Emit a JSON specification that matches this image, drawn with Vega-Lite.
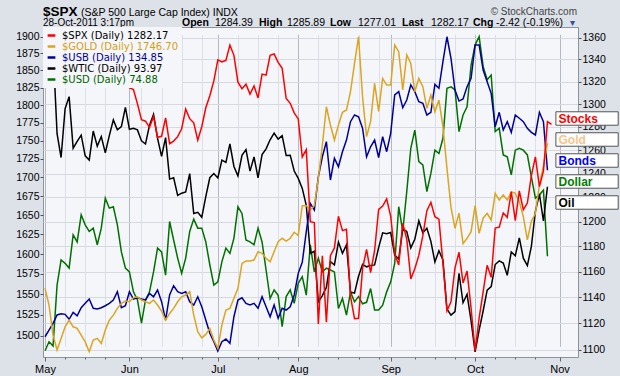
{
  "$schema": "https://vega.github.io/schema/vega-lite/v6.json",
  "width": 535,
  "height": 330,
  "autosize": {"type": "none"},
  "padding": {"left": 43, "top": 27, "right": 42, "bottom": 19},
  "background": "#dde1e8",
  "view": {"fill": "#f5f6fa", "stroke": "#8e939c"},
  "config": {"font": "Liberation Sans"},
  "data": {
    "values": [
      {"i":0,"spx":1361.22,"gold":1557.2,"usb":121.70,"wtic":113.52,"usd":72.89},
      {"i":1,"spx":1356.62,"gold":1536.8,"usb":122.23,"wtic":111.05,"usd":73.08},
      {"i":2,"spx":1347.32,"gold":1500.7,"usb":122.76,"wtic":109.24,"usd":72.99},
      {"i":3,"spx":1335.10,"gold":1483.1,"usb":123.42,"wtic":99.80,"usd":74.27},
      {"i":4,"spx":1340.20,"gold":1496.8,"usb":123.52,"wtic":97.18,"usd":74.80},
      {"i":5,"spx":1346.29,"gold":1510.6,"usb":123.47,"wtic":102.55,"usd":74.73},
      {"i":6,"spx":1357.16,"gold":1518.6,"usb":123.08,"wtic":103.88,"usd":74.63},
      {"i":7,"spx":1342.08,"gold":1510.6,"usb":123.63,"wtic":98.21,"usd":75.33},
      {"i":8,"spx":1348.65,"gold":1508.7,"usb":123.36,"wtic":98.97,"usd":75.18},
      {"i":9,"spx":1337.77,"gold":1500.7,"usb":123.99,"wtic":99.65,"usd":75.75},
      {"i":10,"spx":1329.47,"gold":1492.6,"usb":124.34,"wtic":97.37,"usd":75.54},
      {"i":11,"spx":1328.98,"gold":1481.1,"usb":124.68,"wtic":96.91,"usd":75.40},
      {"i":12,"spx":1340.68,"gold":1494.8,"usb":123.95,"wtic":100.10,"usd":75.47},
      {"i":13,"spx":1343.60,"gold":1496.8,"usb":123.89,"wtic":98.44,"usd":75.12},
      {"i":14,"spx":1333.27,"gold":1490.9,"usb":123.99,"wtic":99.49,"usd":75.47},
      {"i":15,"spx":1317.37,"gold":1506.7,"usb":124.15,"wtic":97.70,"usd":76.10},
      {"i":16,"spx":1316.28,"gold":1518.6,"usb":124.34,"wtic":99.59,"usd":75.89},
      {"i":17,"spx":1320.47,"gold":1524.6,"usb":124.60,"wtic":101.32,"usd":75.92},
      {"i":18,"spx":1325.69,"gold":1532.8,"usb":125.26,"wtic":100.23,"usd":75.54},
      {"i":19,"spx":1331.10,"gold":1538.8,"usb":123.99,"wtic":100.59,"usd":74.97},
      {"i":20,"spx":1345.20,"gold":1541.7,"usb":124.15,"wtic":102.70,"usd":74.63},
      {"i":21,"spx":1314.55,"gold":1540.8,"usb":125.26,"wtic":100.29,"usd":74.55},
      {"i":22,"spx":1312.94,"gold":1545.7,"usb":124.68,"wtic":100.40,"usd":74.13},
      {"i":23,"spx":1300.16,"gold":1546.9,"usb":124.78,"wtic":100.22,"usd":73.96},
      {"i":24,"spx":1286.17,"gold":1542.9,"usb":124.68,"wtic":99.01,"usd":73.47},
      {"i":25,"spx":1284.94,"gold":1540.8,"usb":124.60,"wtic":98.67,"usd":73.96},
      {"i":26,"spx":1279.56,"gold":1538.8,"usb":125.13,"wtic":100.74,"usd":74.13},
      {"i":27,"spx":1289.00,"gold":1542.9,"usb":124.86,"wtic":101.93,"usd":74.55},
      {"i":28,"spx":1270.98,"gold":1536.8,"usb":125.39,"wtic":99.29,"usd":75.05},
      {"i":29,"spx":1271.83,"gold":1529.5,"usb":124.47,"wtic":97.30,"usd":74.97},
      {"i":30,"spx":1287.87,"gold":1518.6,"usb":123.02,"wtic":99.37,"usd":74.48},
      {"i":31,"spx":1265.42,"gold":1526.6,"usb":125.00,"wtic":94.81,"usd":75.61},
      {"i":32,"spx":1267.64,"gold":1532.8,"usb":125.73,"wtic":94.95,"usd":75.22},
      {"i":33,"spx":1271.50,"gold":1540.8,"usb":125.26,"wtic":93.01,"usd":74.84},
      {"i":34,"spx":1278.36,"gold":1546.9,"usb":125.13,"wtic":93.26,"usd":74.52},
      {"i":35,"spx":1295.52,"gold":1549.0,"usb":125.26,"wtic":93.40,"usd":74.84},
      {"i":36,"spx":1287.14,"gold":1553.1,"usb":124.47,"wtic":95.41,"usd":75.40},
      {"i":37,"spx":1283.50,"gold":1524.6,"usb":124.21,"wtic":91.02,"usd":75.66},
      {"i":38,"spx":1268.45,"gold":1504.7,"usb":124.86,"wtic":91.16,"usd":75.47},
      {"i":39,"spx":1280.10,"gold":1497.5,"usb":124.07,"wtic":90.61,"usd":75.47},
      {"i":40,"spx":1296.67,"gold":1501.5,"usb":123.02,"wtic":92.89,"usd":75.18},
      {"i":41,"spx":1307.41,"gold":1508.7,"usb":121.97,"wtic":94.96,"usd":74.70},
      {"i":42,"spx":1320.64,"gold":1494.8,"usb":121.31,"wtic":95.42,"usd":74.27},
      {"i":43,"spx":1339.67,"gold":1485.1,"usb":120.57,"wtic":94.94,"usd":74.34},
      {"i":44,"spx":1337.88,"gold":1512.6,"usb":121.31,"wtic":96.89,"usd":74.76},
      {"i":45,"spx":1339.22,"gold":1530.7,"usb":121.52,"wtic":96.65,"usd":75.05},
      {"i":46,"spx":1353.22,"gold":1532.8,"usb":121.18,"wtic":98.67,"usd":74.94},
      {"i":47,"spx":1343.80,"gold":1545.0,"usb":123.28,"wtic":96.20,"usd":75.26},
      {"i":48,"spx":1319.49,"gold":1557.2,"usb":124.60,"wtic":95.16,"usd":75.92},
      {"i":49,"spx":1313.64,"gold":1588.3,"usb":124.78,"wtic":97.43,"usd":75.78},
      {"i":50,"spx":1317.72,"gold":1591.2,"usb":124.34,"wtic":98.05,"usd":75.22},
      {"i":51,"spx":1308.87,"gold":1591.2,"usb":124.21,"wtic":95.69,"usd":75.18},
      {"i":52,"spx":1316.14,"gold":1592.5,"usb":124.34,"wtic":97.24,"usd":75.12},
      {"i":53,"spx":1305.44,"gold":1603.0,"usb":123.95,"wtic":94.95,"usd":75.47},
      {"i":54,"spx":1326.73,"gold":1601.0,"usb":124.86,"wtic":97.50,"usd":75.18},
      {"i":55,"spx":1325.84,"gold":1594.6,"usb":124.07,"wtic":98.14,"usd":74.59},
      {"i":56,"spx":1343.80,"gold":1590.3,"usb":123.28,"wtic":99.13,"usd":73.99},
      {"i":57,"spx":1345.02,"gold":1603.0,"usb":124.21,"wtic":99.87,"usd":74.17},
      {"i":58,"spx":1337.43,"gold":1615.7,"usb":123.16,"wtic":99.20,"usd":74.06},
      {"i":59,"spx":1331.94,"gold":1620.1,"usb":123.95,"wtic":99.59,"usd":73.40},
      {"i":60,"spx":1304.89,"gold":1616.6,"usb":123.81,"wtic":97.40,"usd":74.03},
      {"i":61,"spx":1300.67,"gold":1620.1,"usb":124.07,"wtic":97.44,"usd":74.17},
      {"i":62,"spx":1292.28,"gold":1627.8,"usb":125.00,"wtic":95.70,"usd":73.89},
      {"i":63,"spx":1286.94,"gold":1623.5,"usb":126.71,"wtic":94.89,"usd":74.31},
      {"i":64,"spx":1254.05,"gold":1662.4,"usb":127.58,"wtic":93.79,"usd":74.45},
      {"i":65,"spx":1260.34,"gold":1662.4,"usb":130.00,"wtic":91.93,"usd":74.06},
      {"i":66,"spx":1200.07,"gold":1656.7,"usb":132.24,"wtic":86.63,"usd":75.12},
      {"i":67,"spx":1199.38,"gold":1662.4,"usb":131.71,"wtic":86.88,"usd":74.55},
      {"i":68,"spx":1119.46,"gold":1698.8,"usb":134.34,"wtic":81.31,"usd":74.84},
      {"i":69,"spx":1172.53,"gold":1743.7,"usb":135.92,"wtic":82.00,"usd":74.55},
      {"i":70,"spx":1120.76,"gold":1797.6,"usb":137.11,"wtic":82.89,"usd":74.63},
      {"i":71,"spx":1172.64,"gold":1771.9,"usb":134.08,"wtic":85.72,"usd":74.59},
      {"i":72,"spx":1178.81,"gold":1751.0,"usb":135.80,"wtic":85.38,"usd":74.55},
      {"i":73,"spx":1204.49,"gold":1771.9,"usb":135.13,"wtic":87.88,"usd":73.78},
      {"i":74,"spx":1192.76,"gold":1789.8,"usb":136.32,"wtic":86.65,"usd":73.99},
      {"i":75,"spx":1193.89,"gold":1793.0,"usb":137.24,"wtic":87.58,"usd":73.64},
      {"i":76,"spx":1140.65,"gold":1819.1,"usb":138.69,"wtic":82.38,"usd":74.13},
      {"i":77,"spx":1123.53,"gold":1860.3,"usb":139.22,"wtic":82.26,"usd":73.92},
      {"i":78,"spx":1123.82,"gold":1900.0,"usb":139.08,"wtic":84.12,"usd":74.03},
      {"i":79,"spx":1162.35,"gold":1811.9,"usb":138.17,"wtic":85.44,"usd":73.88},
      {"i":80,"spx":1177.60,"gold":1755.6,"usb":135.92,"wtic":85.16,"usd":73.91},
      {"i":81,"spx":1159.27,"gold":1776.5,"usb":136.71,"wtic":85.30,"usd":74.20},
      {"i":82,"spx":1176.80,"gold":1831.2,"usb":137.24,"wtic":85.37,"usd":73.75},
      {"i":83,"spx":1210.08,"gold":1791.0,"usb":135.86,"wtic":87.27,"usd":73.75},
      {"i":84,"spx":1212.92,"gold":1838.4,"usb":137.50,"wtic":88.90,"usd":73.85},
      {"i":85,"spx":1218.89,"gold":1828.7,"usb":136.32,"wtic":88.81,"usd":74.13},
      {"i":86,"spx":1204.42,"gold":1828.7,"usb":137.77,"wtic":88.93,"usd":74.34},
      {"i":87,"spx":1173.97,"gold":1887.6,"usb":140.80,"wtic":86.45,"usd":74.73},
      {"i":88,"spx":1165.24,"gold":1877.6,"usb":141.06,"wtic":86.02,"usd":75.92},
      {"i":89,"spx":1198.62,"gold":1821.6,"usb":139.79,"wtic":89.34,"usd":75.40},
      {"i":90,"spx":1185.90,"gold":1872.7,"usb":140.40,"wtic":89.05,"usd":76.24},
      {"i":91,"spx":1154.23,"gold":1860.3,"usb":141.59,"wtic":87.24,"usd":77.15},
      {"i":92,"spx":1162.27,"gold":1819.1,"usb":141.06,"wtic":88.19,"usd":77.53},
      {"i":93,"spx":1172.87,"gold":1838.4,"usb":140.27,"wtic":90.21,"usd":76.87},
      {"i":94,"spx":1188.68,"gold":1826.4,"usb":140.14,"wtic":88.91,"usd":76.80},
      {"i":95,"spx":1209.11,"gold":1795.4,"usb":139.22,"wtic":89.40,"usd":76.24},
      {"i":96,"spx":1216.01,"gold":1814.3,"usb":139.43,"wtic":87.96,"usd":76.62},
      {"i":97,"spx":1204.09,"gold":1790.6,"usb":141.64,"wtic":85.70,"usd":77.11},
      {"i":98,"spx":1202.09,"gold":1807.2,"usb":141.33,"wtic":86.92,"usd":77.04},
      {"i":99,"spx":1166.76,"gold":1769.5,"usb":143.43,"wtic":85.92,"usd":77.36},
      {"i":100,"spx":1129.56,"gold":1712.1,"usb":145.40,"wtic":80.51,"usd":78.41},
      {"i":101,"spx":1136.43,"gold":1660.2,"usb":143.70,"wtic":79.85,"usd":78.44},
      {"i":102,"spx":1162.95,"gold":1632.8,"usb":141.19,"wtic":80.24,"usd":78.38},
      {"i":103,"spx":1175.38,"gold":1652.4,"usb":140.32,"wtic":84.45,"usd":77.50},
      {"i":104,"spx":1151.06,"gold":1613.2,"usb":140.48,"wtic":81.21,"usd":77.85},
      {"i":105,"spx":1160.40,"gold":1620.1,"usb":141.45,"wtic":82.14,"usd":78.02},
      {"i":106,"spx":1131.42,"gold":1628.6,"usb":142.12,"wtic":79.20,"usd":78.90},
      {"i":107,"spx":1099.23,"gold":1662.4,"usb":144.75,"wtic":75.80,"usd":79.32},
      {"i":108,"spx":1123.95,"gold":1626.5,"usb":144.75,"wtic":78.20,"usd":79.50},
      {"i":109,"spx":1144.03,"gold":1646.0,"usb":142.77,"wtic":80.30,"usd":78.87},
      {"i":110,"spx":1164.97,"gold":1652.4,"usb":141.85,"wtic":82.59,"usd":78.59},
      {"i":111,"spx":1155.46,"gold":1643.7,"usb":140.93,"wtic":82.98,"usd":78.69},
      {"i":112,"spx":1194.89,"gold":1678.7,"usb":138.29,"wtic":85.41,"usd":77.50},
      {"i":113,"spx":1195.54,"gold":1669.9,"usb":139.43,"wtic":85.81,"usd":77.57},
      {"i":114,"spx":1207.25,"gold":1676.5,"usb":138.03,"wtic":85.57,"usd":77.01},
      {"i":115,"spx":1203.66,"gold":1669.9,"usb":138.69,"wtic":84.23,"usd":76.97},
      {"i":116,"spx":1224.58,"gold":1680.8,"usb":137.85,"wtic":86.80,"usd":76.59},
      {"i":117,"spx":1200.86,"gold":1678.7,"usb":139.22,"wtic":86.38,"usd":77.11},
      {"i":118,"spx":1225.38,"gold":1667.7,"usb":138.96,"wtic":88.34,"usd":77.15},
      {"i":119,"spx":1209.88,"gold":1648.0,"usb":138.69,"wtic":86.11,"usd":77.11},
      {"i":120,"spx":1215.39,"gold":1618.0,"usb":138.17,"wtic":85.30,"usd":77.01},
      {"i":121,"spx":1238.25,"gold":1642.0,"usb":137.85,"wtic":87.40,"usd":76.55},
      {"i":122,"spx":1254.19,"gold":1652.0,"usb":137.64,"wtic":91.27,"usd":76.10},
      {"i":123,"spx":1229.05,"gold":1690.0,"usb":139.43,"wtic":93.17,"usd":76.17},
      {"i":124,"spx":1242.00,"gold":1715.0,"usb":138.69,"wtic":90.20,"usd":76.27},
      {"i":125,"spx":1284.59,"gold":1746.70,"usb":134.85,"wtic":93.97,"usd":74.88},
      {"i":126,"spx":1282.17}
    ]
  },
  "layer": [
    {
      "mark": {"type": "line", "strokeWidth": 1.5, "clip": true},
      "encoding": {
        "x": {"field": "i", "type": "quantitative", "scale": {"domain": [-0.5, 132.6], "nice": false, "zero": false}, "axis": null},
        "y": {"field": "usd", "type": "quantitative", "scale": {"domain": [72.76, 79.70], "nice": false, "zero": false}, "axis": null},
        "color": {"datum": "$USD (Daily) 74.88"}
      }
    },
    {
      "mark": {"type": "line", "strokeWidth": 1.5, "clip": true},
      "encoding": {
        "x": {"field": "i", "type": "quantitative", "scale": {"domain": [-0.5, 132.6], "nice": false, "zero": false}, "axis": null},
        "y": {"field": "wtic", "type": "quantitative", "scale": {"domain": [75.24, 111.54], "nice": false, "zero": false}, "axis": null},
        "color": {"datum": "$WTIC (Daily) 93.97"}
      }
    },
    {
      "mark": {"type": "line", "strokeWidth": 1.5, "clip": true},
      "encoding": {
        "x": {"field": "i", "type": "quantitative", "scale": {"domain": [-0.5, 132.6], "nice": false, "zero": false}, "axis": null},
        "y": {"field": "usb", "type": "quantitative", "scale": {"domain": [120.1, 146.17], "nice": false, "zero": false}, "axis": null},
        "color": {"datum": "$USB (Daily) 134.85"}
      }
    },
    {
      "mark": {"type": "line", "strokeWidth": 1.5, "clip": true},
      "encoding": {
        "x": {"field": "i", "type": "quantitative", "scale": {"domain": [-0.5, 132.6], "nice": false, "zero": false}, "axis": null},
        "y": {"field": "gold", "type": "quantitative",
          "scale": {"type": "log", "domain": [1500, 1900], "range": [308.7, 9.7], "nice": false, "zero": false},
          "axis": {"orient": "left", "values": [1500,1525,1550,1575,1600,1625,1650,1675,1700,1725,1750,1775,1800,1825,1850,1875,1900],
            "format": "d", "grid": false, "domain": false, "tickSize": 3, "tickColor": "#555555", "labelPadding": 1,
            "labelFont": "Liberation Sans", "labelFontSize": 10.5, "labelColor": "#000000", "labelOverlap": false, "title": null}},
        "color": {"datum": "$GOLD (Daily) 1746.70"}
      }
    },
    {
      "mark": {"type": "line", "strokeWidth": 1.5, "clip": true},
      "encoding": {
        "x": {"field": "i", "type": "quantitative", "scale": {"domain": [-0.5, 132.6], "nice": false, "zero": false},
          "axis": {"orient": "bottom",
            "values": [0,5,10,15,21,24,29,34,39,43,48,53,58,63,68,73,78,83,86,92,97,102,107,112,117,122,128],
            "labelExpr": "datum.value == 0 ? 'May' : datum.value == 21 ? 'Jun' : datum.value == 43 ? 'Jul' : datum.value == 63 ? 'Aug' : datum.value == 86 ? 'Sep' : datum.value == 107 ? 'Oct' : datum.value == 128 ? 'Nov' : ''",
            "grid": true,
            "gridColor": {"condition": {"test": "indexof([0,21,43,63,86,107,128], datum.value) >= 0", "value": "#b4b8c1"}, "value": "#dcdfe6"},
            "tickSize": {"condition": {"test": "indexof([0,21,43,63,86,107,128], datum.value) >= 0", "value": 4}, "value": 2},
            "tickColor": "#666666", "domain": false,
            "labelFont": "Liberation Sans", "labelFontSize": 11, "labelColor": "#000000", "labelPadding": 2,
            "labelFlush": false, "labelOverlap": false, "labelBound": false, "title": null}},
        "y": {"field": "spx", "type": "quantitative",
          "scale": {"type": "log", "domain": [1100, 1360], "range": [322.7, 10.7], "nice": false, "zero": false},
          "axis": {"orient": "right", "values": [1100,1120,1140,1160,1180,1200,1220,1240,1260,1280,1300,1320,1340,1360],
            "format": "d", "grid": true, "gridColor": "#d6d9df", "domain": false, "tickSize": 3, "tickColor": "#555555", "labelPadding": 1,
            "labelFont": "Liberation Sans", "labelFontSize": 10.5, "labelColor": "#000000", "labelOverlap": false, "title": null}},
        "color": {
          "datum": "$SPX (Daily) 1282.17",
          "scale": {
            "domain": ["$SPX (Daily) 1282.17", "$GOLD (Daily) 1746.70", "$USB (Daily) 134.85", "$WTIC (Daily) 93.97", "$USD (Daily) 74.88"],
            "range": ["#ff0000", "#daa520", "#000099", "#000000", "#007000"]
          },
          "legend": {
            "orient": "top-left", "offset": 0, "padding": 3, "title": null, "zindex": 1,
            "fillColor": "#f5f6fa", "strokeColor": null,
            "symbolType": "stroke", "symbolStrokeWidth": 2.5, "symbolSize": 60,
            "labelFont": "DejaVu Sans", "labelFontSize": 10, "labelOffset": 5, "rowPadding": 0,
            "encode": {"labels": {"update": {"fill": [
              {"test": "datum.value === '$GOLD (Daily) 1746.70'", "value": "#d4a017"},
              {"test": "datum.value === '$USB (Daily) 134.85'", "value": "#000099"},
              {"test": "datum.value === '$USD (Daily) 74.88'", "value": "#006400"},
              {"value": "#000000"}
            ]}}}
          }
        }
      }
    },
    {
      "data": {"values": [{}]},
      "layer": [
        {
          "mark": {"type": "text", "text": "$SPX", "align": "left", "baseline": "alphabetic", "font": "Liberation Sans", "fontSize": 13.5, "fontWeight": "bold", "color": "#000000"},
          "encoding": {
            "x": {"datum": -0.5, "type": "quantitative", "scale": {"domain": [-0.5, 132.6], "nice": false, "zero": false}, "axis": null},
            "y": {"datum": 1380.2, "type": "quantitative", "scale": {"type": "log", "domain": [1100, 1360], "range": [322.7, 10.7], "nice": false, "zero": false}, "axis": null}
          }
        },
        {
          "mark": {"type": "text", "text": "(S&P 500 Large Cap Index) INDX", "align": "left", "baseline": "alphabetic", "font": "Liberation Sans", "fontSize": 10.5, "color": "#000000"},
          "encoding": {
            "x": {"datum": 8.96, "type": "quantitative", "scale": {"domain": [-0.5, 132.6], "nice": false, "zero": false}, "axis": null},
            "y": {"datum": 1380.2, "type": "quantitative", "scale": {"type": "log", "domain": [1100, 1360], "range": [322.7, 10.7], "nice": false, "zero": false}, "axis": null}
          }
        },
        {
          "mark": {"type": "text", "text": "28-Oct-2011 3:17pm", "align": "left", "baseline": "alphabetic", "font": "Liberation Sans", "fontSize": 10, "color": "#000000"},
          "encoding": {
            "x": {"datum": -0.5, "type": "quantitative", "scale": {"domain": [-0.5, 132.6], "nice": false, "zero": false}, "axis": null},
            "y": {"datum": 1370.9, "type": "quantitative", "scale": {"type": "log", "domain": [1100, 1360], "range": [322.7, 10.7], "nice": false, "zero": false}, "axis": null}
          }
        },
        {
          "mark": {"type": "text", "text": "Open", "align": "left", "baseline": "alphabetic", "font": "Liberation Sans", "fontSize": 10.5, "fontWeight": "bold", "color": "#000000"},
          "encoding": {
            "x": {"datum": 34.08, "type": "quantitative", "scale": {"domain": [-0.5, 132.6], "nice": false, "zero": false}, "axis": null},
            "y": {"datum": 1370.9, "type": "quantitative", "scale": {"type": "log", "domain": [1100, 1360], "range": [322.7, 10.7], "nice": false, "zero": false}, "axis": null}
          }
        },
        {
          "mark": {"type": "text", "text": "1284.39", "align": "left", "baseline": "alphabetic", "font": "Liberation Sans", "fontSize": 10.5, "color": "#000000"},
          "encoding": {
            "x": {"datum": 42.29, "type": "quantitative", "scale": {"domain": [-0.5, 132.6], "nice": false, "zero": false}, "axis": null},
            "y": {"datum": 1370.9, "type": "quantitative", "scale": {"type": "log", "domain": [1100, 1360], "range": [322.7, 10.7], "nice": false, "zero": false}, "axis": null}
          }
        },
        {
          "mark": {"type": "text", "text": "High", "align": "left", "baseline": "alphabetic", "font": "Liberation Sans", "fontSize": 10.5, "fontWeight": "bold", "color": "#000000"},
          "encoding": {
            "x": {"datum": 53.24, "type": "quantitative", "scale": {"domain": [-0.5, 132.6], "nice": false, "zero": false}, "axis": null},
            "y": {"datum": 1370.9, "type": "quantitative", "scale": {"type": "log", "domain": [1100, 1360], "range": [322.7, 10.7], "nice": false, "zero": false}, "axis": null}
          }
        },
        {
          "mark": {"type": "text", "text": "1285.89", "align": "left", "baseline": "alphabetic", "font": "Liberation Sans", "fontSize": 10.5, "color": "#000000"},
          "encoding": {
            "x": {"datum": 60.21, "type": "quantitative", "scale": {"domain": [-0.5, 132.6], "nice": false, "zero": false}, "axis": null},
            "y": {"datum": 1370.9, "type": "quantitative", "scale": {"type": "log", "domain": [1100, 1360], "range": [322.7, 10.7], "nice": false, "zero": false}, "axis": null}
          }
        },
        {
          "mark": {"type": "text", "text": "Low", "align": "left", "baseline": "alphabetic", "font": "Liberation Sans", "fontSize": 10.5, "fontWeight": "bold", "color": "#000000"},
          "encoding": {
            "x": {"datum": 70.90, "type": "quantitative", "scale": {"domain": [-0.5, 132.6], "nice": false, "zero": false}, "axis": null},
            "y": {"datum": 1370.9, "type": "quantitative", "scale": {"type": "log", "domain": [1100, 1360], "range": [322.7, 10.7], "nice": false, "zero": false}, "axis": null}
          }
        },
        {
          "mark": {"type": "text", "text": "1277.01", "align": "left", "baseline": "alphabetic", "font": "Liberation Sans", "fontSize": 10.5, "color": "#000000"},
          "encoding": {
            "x": {"datum": 77.87, "type": "quantitative", "scale": {"domain": [-0.5, 132.6], "nice": false, "zero": false}, "axis": null},
            "y": {"datum": 1370.9, "type": "quantitative", "scale": {"type": "log", "domain": [1100, 1360], "range": [322.7, 10.7], "nice": false, "zero": false}, "axis": null}
          }
        },
        {
          "mark": {"type": "text", "text": "Last", "align": "left", "baseline": "alphabetic", "font": "Liberation Sans", "fontSize": 10.5, "fontWeight": "bold", "color": "#000000"},
          "encoding": {
            "x": {"datum": 88.82, "type": "quantitative", "scale": {"domain": [-0.5, 132.6], "nice": false, "zero": false}, "axis": null},
            "y": {"datum": 1370.9, "type": "quantitative", "scale": {"type": "log", "domain": [1100, 1360], "range": [322.7, 10.7], "nice": false, "zero": false}, "axis": null}
          }
        },
        {
          "mark": {"type": "text", "text": "1282.17", "align": "left", "baseline": "alphabetic", "font": "Liberation Sans", "fontSize": 10.5, "color": "#000000"},
          "encoding": {
            "x": {"datum": 96.03, "type": "quantitative", "scale": {"domain": [-0.5, 132.6], "nice": false, "zero": false}, "axis": null},
            "y": {"datum": 1370.9, "type": "quantitative", "scale": {"type": "log", "domain": [1100, 1360], "range": [322.7, 10.7], "nice": false, "zero": false}, "axis": null}
          }
        },
        {
          "mark": {"type": "text", "text": "Chg", "align": "left", "baseline": "alphabetic", "font": "Liberation Sans", "fontSize": 10.5, "fontWeight": "bold", "color": "#000000"},
          "encoding": {
            "x": {"datum": 106.48, "type": "quantitative", "scale": {"domain": [-0.5, 132.6], "nice": false, "zero": false}, "axis": null},
            "y": {"datum": 1370.9, "type": "quantitative", "scale": {"type": "log", "domain": [1100, 1360], "range": [322.7, 10.7], "nice": false, "zero": false}, "axis": null}
          }
        },
        {
          "mark": {"type": "text", "text": "-2.42 (-0.19%)", "align": "left", "baseline": "alphabetic", "font": "Liberation Sans", "fontSize": 10.5, "color": "#000000"},
          "encoding": {
            "x": {"datum": 112.2, "type": "quantitative", "scale": {"domain": [-0.5, 132.6], "nice": false, "zero": false}, "axis": null},
            "y": {"datum": 1370.9, "type": "quantitative", "scale": {"type": "log", "domain": [1100, 1360], "range": [322.7, 10.7], "nice": false, "zero": false}, "axis": null}
          }
        },
        {
          "mark": {"type": "text", "text": "\u25BE", "align": "right", "baseline": "alphabetic", "font": "DejaVu Sans", "fontSize": 10, "color": "#3050a0"},
          "encoding": {
            "x": {"datum": 131.86, "type": "quantitative", "scale": {"domain": [-0.5, 132.6], "nice": false, "zero": false}, "axis": null},
            "y": {"datum": 1370.9, "type": "quantitative", "scale": {"type": "log", "domain": [1100, 1360], "range": [322.7, 10.7], "nice": false, "zero": false}, "axis": null}
          }
        },
        {
          "mark": {"type": "text", "text": "\u00A9 StockCharts.com", "align": "right", "baseline": "alphabetic", "font": "Liberation Sans", "fontSize": 10, "color": "#444444"},
          "encoding": {
            "x": {"datum": 132.35, "type": "quantitative", "scale": {"domain": [-0.5, 132.6], "nice": false, "zero": false}, "axis": null},
            "y": {"datum": 1381.2, "type": "quantitative", "scale": {"type": "log", "domain": [1100, 1360], "range": [322.7, 10.7], "nice": false, "zero": false}, "axis": null}
          }
        }
      ]
    },
    {
      "data": {"values": [{"tag": "Stocks"}, {"tag": "Gold"}, {"tag": "Bonds"}, {"tag": "Dollar"}, {"tag": "Oil"}]},
      "encoding": {
        "y": {"field": "tag", "type": "nominal",
          "scale": {"type": "band", "domain": ["Stocks", "Gold", "Bonds", "Dollar", "Oil"], "range": [81, 186], "paddingInner": 0.36, "paddingOuter": 0.18},
          "axis": null}
      },
      "layer": [
        {
          "mark": {"type": "rect", "fill": "#ffffff", "stroke": "#555555", "strokeWidth": 1, "clip": false},
          "encoding": {
            "x": {"datum": 127.1, "type": "quantitative", "scale": {"domain": [-0.5, 132.6], "nice": false, "zero": false}, "axis": null},
            "x2": {"datum": 142.6}
          }
        },
        {
          "mark": {"type": "text", "align": "left", "baseline": "middle", "font": "Liberation Sans", "fontSize": 12, "fontWeight": "bold", "clip": false},
          "encoding": {
            "x": {"datum": 127.75, "type": "quantitative", "scale": {"domain": [-0.5, 132.6], "nice": false, "zero": false}, "axis": null},
            "text": {"field": "tag"},
            "fill": {"field": "tag", "type": "nominal",
              "scale": {"domain": ["Stocks", "Gold", "Bonds", "Dollar", "Oil"], "range": ["#ff0000", "#f8c48c", "#0000ff", "#008000", "#000000"]},
              "legend": null}
          }
        }
      ]
    }
  ],
  "resolve": {"scale": {"y": "independent"}, "axis": {"x": "independent", "y": "independent"}}
}
